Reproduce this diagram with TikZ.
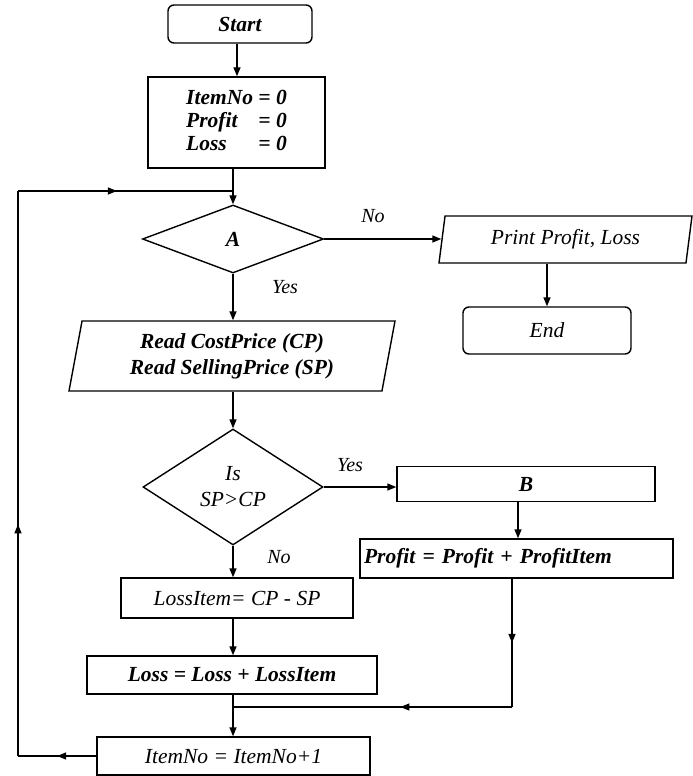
\documentclass[tikz,border=0pt]{standalone}
\usepackage{fontspec}
\setmainfont{Liberation Serif}
\usetikzlibrary{shapes.geometric,arrows.meta,decorations.markings}
\tikzset{
  every node/.style={font=\fontsize{21.5}{26}\selectfont\itshape},
  bx/.style={draw, line width=1.4pt, rectangle, inner sep=3pt},
  rbx/.style={bx, rounded corners=6pt},
  dmd/.style={draw, line width=1.4pt, diamond, inner sep=0pt},
  para/.style={draw, line width=1.4pt, trapezium, trapezium stretches body, trapezium left angle=#1, trapezium right angle=180-#1, inner sep=0pt, align=center},
  lbl/.style={font=\fontsize{20}{24}\selectfont\itshape},
  ln/.style={line width=1.4pt},
  arr/.style={ln, -{Triangle[length=9pt,width=7pt]}},
  midarrow/.style={ln, postaction={decorate}, decoration={markings, mark=at position #1 with {\arrow{Triangle[length=9pt,width=7pt]}}}}
}
\begin{document}
\begin{tikzpicture}[x=1pt,y=-1pt]
\useasboundingbox (0,0) rectangle (693,776);
\node[rbx, minimum width=144pt, minimum height=38pt] (start) at (240,24) {\bfseries Start};
\node[bx, minimum width=177pt, minimum height=91pt] (init) at (236.5,122.5)
  {\bfseries\begin{tabular}{@{}l@{\ }l@{}}ItemNo&= 0\\[-3pt] Profit&= 0\\[-3pt] Loss&= 0\end{tabular}};
\node[dmd, minimum width=181pt, minimum height=68pt] (A) at (233,239) {\bfseries A};
\node[para=73, minimum width=253pt, minimum height=47pt] (print) at (565.5,239.5) {Print Profit, Loss};
\node[rbx, minimum width=168pt, minimum height=47pt] (end) at (547,330.5) {End};
\node[para=74, minimum width=326pt, minimum height=70pt] (read) at (232,356) {\bfseries Read CostPrice (CP)\\\bfseries Read SellingPrice (SP)};
\node[dmd, minimum width=180pt, minimum height=116pt, align=center] (is) at (233,487) {Is\\SP>CP};
\node[bx, minimum width=258pt, minimum height=35pt] (B) at (526,484) {\bfseries B};
\node[bx, minimum width=313pt, minimum height=39pt, text width=305pt, align=left] (profit) at (516.5,558.5) {\bfseries Profit = Profit + ProfitItem};
\node[bx, minimum width=232pt, minimum height=40pt] (lossitem) at (237,598) {LossItem= CP - SP};
\node[bx, minimum width=290pt, minimum height=38pt] (loss) at (232,675) {\bfseries Loss = Loss + LossItem};
\node[bx, minimum width=273pt, minimum height=38pt] (itemno) at (233.5,756) {ItemNo = ItemNo+1};
\node[lbl] (lno1) at (373,216) {No};
\node[lbl] (lyes1) at (285,287) {Yes};
\node[lbl] (lyes2) at (350,465) {Yes};
\node[lbl] (lno2) at (279,557) {No};
\coordinate (lb) at (18,756);
\coordinate (lt) at (18,191);
\coordinate (jt) at (A.north |- lt);
\coordinate (mr) at (512,707);
\coordinate (ml) at (A.north |- mr);
\coordinate (pb) at (mr |- profit.south);
\draw[arr] (start.south -| 237,0) -- (init.north -| 237,0);
\draw[arr] (init.south -| A.north) -- (A.north);
\draw[arr] (A.east) -- (A.east -| print.west);
\draw[arr] (print.south -| end.north) -- (end);
\draw[arr] (A.south) -- (A.south |- read.north);
\draw[arr] (read.south -| is.north) -- (is.north);
\draw[arr] (is.east) -- (is.east -| B.west);
\draw[arr] ([xshift=-8pt]B.south) -- ([xshift=-8pt]B.south |- profit.north);
\draw[arr] (is.south) -- (is.south |- lossitem.north);
\draw[arr] (lossitem.south -| is.south) -- (is.south |- loss.north);
\draw[arr] (loss.south -| is.south) -- (is.south |- itemno.north);
\draw[midarrow=0.5] (pb) -- (mr);
\draw[midarrow=0.4] (mr) -- (ml);
\draw[midarrow=0.5] (itemno.west) -- (lb);
\draw[midarrow=0.41] (lb) -- (lt);
\draw[midarrow=0.46] (lt) -- (jt);
\end{tikzpicture}
\end{document}
